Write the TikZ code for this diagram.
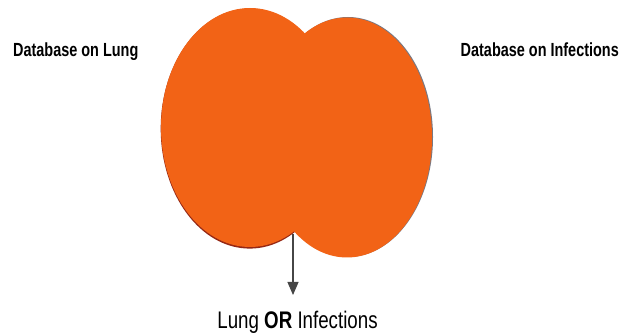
\documentclass[tikz,border=0pt]{standalone}
\usepackage{fontspec}
\usepackage{tikz}
\usetikzlibrary{
  arrows.meta,
  positioning,
  shapes.geometric
}
\setmainfont{Liberation Sans}
\newfontfamily\labelfont[FakeStretch=0.76]{Liberation Sans}
\newfontfamily\resultfont[FakeStretch=0.78]{Liberation Sans}
\definecolor{setorange}{RGB}{242,99,22}
\definecolor{edgered}{RGB}{150,40,20}
\definecolor{edgegray}{RGB}{120,120,130}
\definecolor{arrowgray}{RGB}{70,70,70}

\begin{document}
\begin{tikzpicture}[x=1pt, y=-1pt,
  setblob/.style={ellipse, fill=setorange, inner sep=0pt},
  dblabel/.style={font=\labelfont\fontsize{19}{21}\selectfont\bfseries, inner sep=0pt}]
  \useasboundingbox (0,0) rectangle (621,336);

  % soft edges under the two sets
  \fill[edgered] (249.7,128.6) ellipse [x radius=89pt, y radius=120pt];
  \fill[edgegray] (348,137) ellipse [x radius=85pt, y radius=120pt];

  \node[setblob, minimum width=178pt, minimum height=239pt] (lung) at (250,127.5) {};
  \node[setblob, minimum width=170pt, minimum height=240pt] (infect) at (347,137.5) {};

  \node[dblabel, anchor=base west] (lunglbl) at (13,56.5) {Database on Lung};
  \node[dblabel, anchor=base east] (infectlbl) at (619,56.5) {Database on Infections};

  \node[font=\resultfont\fontsize{24}{26}\selectfont, inner sep=0pt, anchor=base] (result) at (297.5,329) {Lung \textbf{OR} Infections};

  \coordinate (cross) at (293,234);
  \coordinate (tip) at (293,295);
  \draw[-{Triangle[length=13pt, width=11pt]}, line width=1.1pt, arrowgray] (cross) -- (tip);
\end{tikzpicture}
\end{document}
